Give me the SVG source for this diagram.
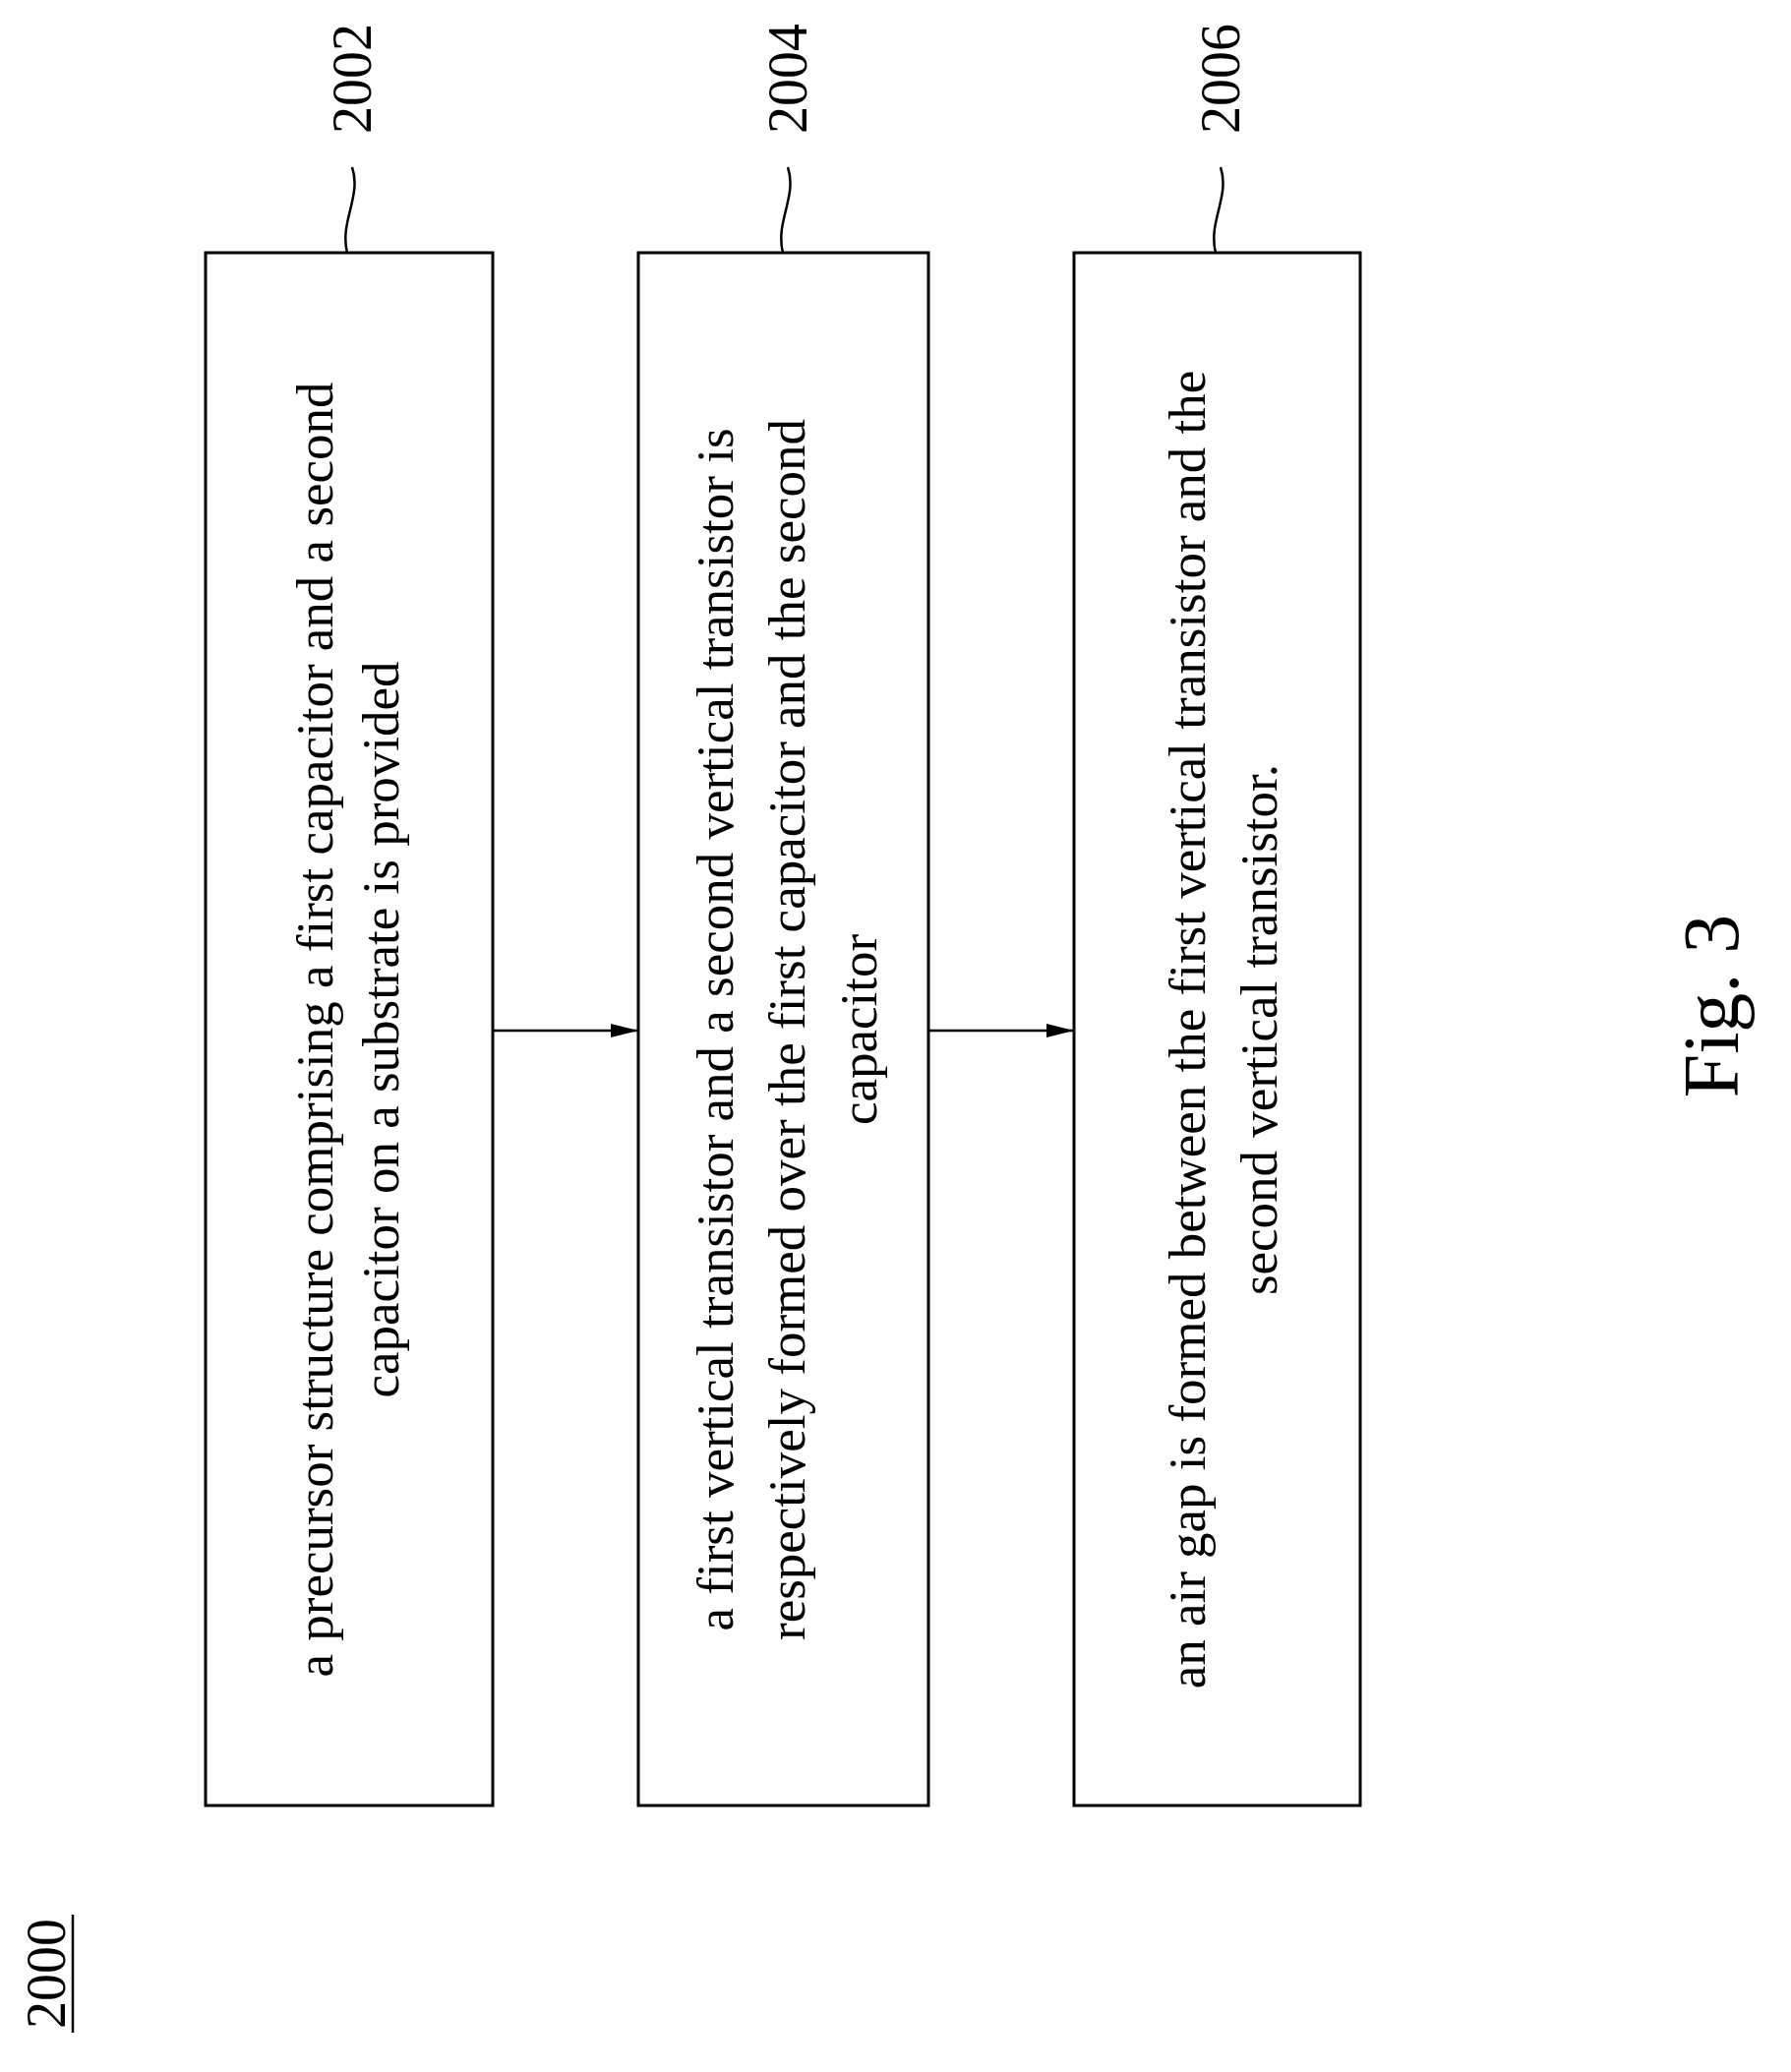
<svg xmlns="http://www.w3.org/2000/svg" width="1821" height="2107" viewBox="0 0 1821 2107">
<defs>
<style>
.box{fill:#fff;stroke:#000;stroke-width:3}
.t{font-family:"Liberation Serif",serif;font-size:53px;fill:#000;text-anchor:middle;dominant-baseline:central}
.lbl{font-family:"Liberation Serif",serif;font-size:56px;fill:#000;text-anchor:middle;dominant-baseline:central}
.ln{fill:none;stroke:#000;stroke-width:2.5}
</style>
<marker id="ah" viewBox="0 0 10 10" refX="10" refY="5" markerWidth="10" markerHeight="10" markerUnits="userSpaceOnUse" orient="auto"><path d="M0,0 L10,5 L0,10 z"/></marker>
<marker id="a" viewBox="0 0 20 10" refX="20" refY="5" markerWidth="28" markerHeight="14" markerUnits="userSpaceOnUse" orient="auto"><path d="M0,0 L20,5 L0,10 z" fill="#000"/></marker>
</defs>
<g id="n2000"><text class="lbl" transform="translate(47,2007) rotate(-90)">2000</text><line class="ln" x1="74" y1="1947" x2="74" y2="2067"/></g>
<g id="n2002">
<rect class="box" x="209" y="257" width="292" height="1579"/>
<text class="t" transform="translate(320,1047) rotate(-90)">a precursor structure comprising a first capacitor and a second</text>
<text class="t" transform="translate(387,1047) rotate(-90)">capacitor on a substrate is provided</text>
<path class="ln" d="M353,257 C345,225 368,200 358,170"/>
<text class="lbl" transform="translate(358,80) rotate(-90)">2002</text>
</g>
<g id="n2004">
<rect class="box" x="649" y="257" width="295" height="1579"/>
<text class="t" transform="translate(727,1047) rotate(-90)">a first vertical transistor and a second vertical transistor is</text>
<text class="t" transform="translate(800,1047) rotate(-90)">respectively formed over the first capacitor and the second</text>
<text class="t" transform="translate(873,1047) rotate(-90)">capacitor</text>
<path class="ln" d="M796,257 C788,225 811,200 801,170"/>
<text class="lbl" transform="translate(801,80) rotate(-90)">2004</text>
</g>
<g id="n2006">
<rect class="box" x="1092" y="257" width="291" height="1579"/>
<text class="t" transform="translate(1207,1047) rotate(-90)">an air gap is formed between the first vertical transistor and the</text>
<text class="t" transform="translate(1280,1047) rotate(-90)">second vertical transistor.</text>
<path class="ln" d="M1236,257 C1228,225 1251,200 1241,170"/>
<text class="lbl" transform="translate(1241,80) rotate(-90)">2006</text>
</g>
<g id="fig"><text class="lbl" style="font-size:80px" transform="translate(1740,1023) rotate(-90)">Fig. 3</text></g>
<g id="connectors">
<line class="ln" x1="501" y1="1048" x2="649" y2="1048" marker-end="url(#a)"/>
<line class="ln" x1="944" y1="1048" x2="1092" y2="1048" marker-end="url(#a)"/>
</g>
</svg>
